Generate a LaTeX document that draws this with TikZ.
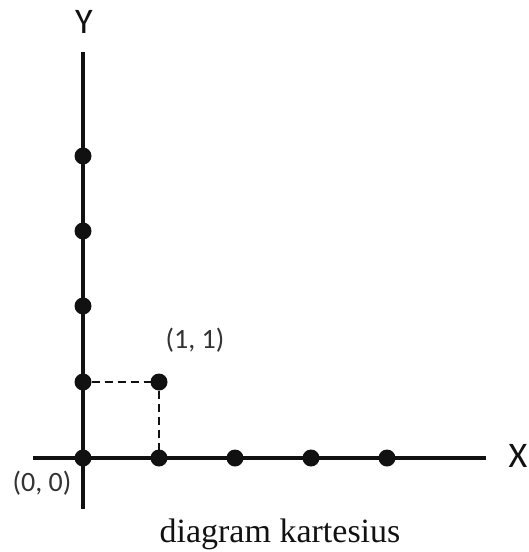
\documentclass[tikz,border=0pt]{standalone}
\usepackage{fontspec}
\setmainfont{Carlito}
\newfontfamily\legendafont{Liberation Serif}
\usetikzlibrary{positioning}
\definecolor{kline}{HTML}{111111}
\definecolor{ktexto}{HTML}{333333}
\tikzset{kpx/.style={x=1pt,y=-1pt,every node/.style={inner sep=0pt,outer sep=0pt,anchor=center,align=center}}}
\tikzset{
  eixo/.style={draw=kline,line width=3.2pt},
  guia/.style={draw=kline,line width=2pt,dash pattern=on 8pt off 5pt},
  ponto/.style={circle,fill=kline,minimum size=17pt},
  rotulo/.style={font=\fontsize{36}{36}\selectfont,text=kline},
  coord/.style={font=\fontsize{28}{28}\selectfont,text=ktexto},
  legenda/.style={font=\legendafont\fontsize{34}{34}\selectfont,text=kline,anchor=base},
}

\begin{document}
\begin{tikzpicture}[kpx]
  \useasboundingbox (0,0) rectangle (529,552);
  % eixos
  \coordinate (xini) at (33,458);
  \coordinate (xfim) at (486,458);
  \coordinate (yini) at (83,509);
  \coordinate (yfim) at (83,52);
  \draw[eixo] (xini) -- (xfim);
  \draw[eixo] (yini) -- (yfim);
  % pontos
  \node[ponto] (o) at (83,458) {};
  \node[ponto] (x1) at (159,458) {};
  \node[ponto] (x2) at (235,458) {};
  \node[ponto] (x3) at (311,458) {};
  \node[ponto] (x4) at (387,458) {};
  \node[ponto] (y1) at (83,382) {};
  \node[ponto] (y2) at (83,306) {};
  \node[ponto] (y3) at (83,231) {};
  \node[ponto] (y4) at (83,156) {};
  \node[ponto] (p11) at (159,382) {};
  \draw[guia] (y1) -- (p11);
  \draw[guia] (p11) -- (x1);
  % rotulos
  \node[rotulo] (ly) at (84,22) {Y};
  \node[rotulo] (lx) at (518,456) {X};
  \node[coord] (lo) at (42,483) {(0, 0)};
  \node[coord] (lp) at (195,340) {(1, 1)};
  \node[legenda] (leg) at (280,542) {diagram kartesius};
\end{tikzpicture}
\end{document}
